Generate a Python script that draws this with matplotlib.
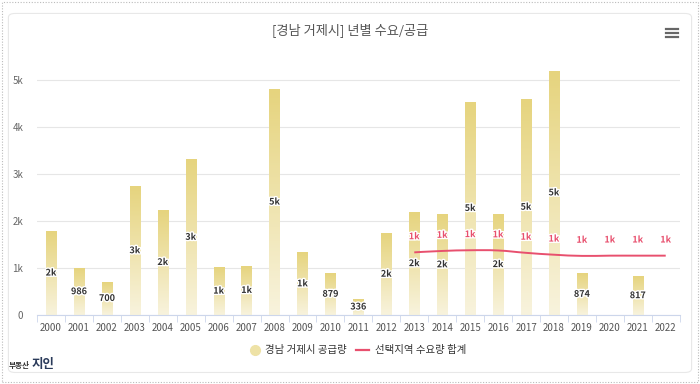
import matplotlib.pyplot as plt
import numpy as np
from matplotlib.colors import LinearSegmentedColormap
from matplotlib.path import Path
from matplotlib.patches import PathPatch, Rectangle, FancyBboxPatch
from matplotlib.lines import Line2D
import matplotlib.patheffects as pe

plt.rcParams['font.family'] = ['Noto Sans CJK KR', 'DejaVu Sans']

years = [str(y) for y in range(2000, 2023)]
supply = [1780, 986, 700, 2730, 2230, 3300, 1010, 1040, 4800, 1320, 879, 336,
          1730, 2180, 2130, 4530, 2140, 4580, 5190, 874, 0, 817, 0]
supply_labels = ['2k', '986', '700', '3k', '2k', '3k', '1k', '1k', '5k', '1k', '879', '336',
                 '2k', '2k', '2k', '5k', '2k', '5k', '5k', '874', '', '817', '']
demand_years = years[13:]
demand = [1330, 1360, 1375, 1370, 1320, 1280, 1255, 1260, 1260, 1260]
demand_labels = ['1k'] * len(demand)

title = '[경남 거제시] 년별 수요/공급'
legend_supply = '경남 거제시 공급량'
legend_demand = '선택지역 수요량 합계'

bar_top = '#E6D47E'
bar_bottom = '#F8F3DD'
line_color = '#E8506E'

fig = plt.figure(figsize=(7, 3.84), dpi=100)
ax = fig.add_axes([0.053, 0.180, 0.918, 0.661])

x = np.arange(len(years))
w = 0.37
cmap = LinearSegmentedColormap.from_list('g', [bar_bottom, bar_top])
grad = np.linspace(0, 1, 100).reshape(-1, 1)
for xi, v, lab in zip(x, supply, supply_labels):
    if v > 0:
        ax.imshow(grad, extent=[xi - w / 2, xi + w / 2, 0, v], origin='lower',
                  aspect='auto', cmap=cmap, zorder=2, interpolation='bilinear')
    if lab:
        ax.text(xi, v / 2, lab, ha='center', va='center', fontsize=6.5,
                fontweight='bold', color='#333333', zorder=5,
                path_effects=[pe.withStroke(linewidth=2, foreground='white')])

# spline for demand line (Highcharts-style bezier through the points)
dx = x[13:].astype(float)
dy = np.array(demand, dtype=float)
sm, den = 1.5, 2.5
verts = [(dx[0], dy[0])]
codes = [Path.MOVETO]
lc = [None] * len(dx)
rc = [None] * len(dx)
for i in range(len(dx)):
    if 0 < i < len(dx) - 1:
        lx = (sm * dx[i] + dx[i - 1]) / den
        ly = (sm * dy[i] + dy[i - 1]) / den
        rx = (sm * dx[i] + dx[i + 1]) / den
        ry = (sm * dy[i] + dy[i + 1]) / den
        corr = ((ry - ly) * (rx - dx[i])) / (rx - lx) + dy[i] - ry
        ly += corr
        ry += corr
        lc[i] = (lx, ly)
        rc[i] = (rx, ry)
for i in range(1, len(dx)):
    c1 = rc[i - 1] if rc[i - 1] else (dx[i - 1], dy[i - 1])
    c2 = lc[i] if lc[i] else (dx[i], dy[i])
    verts += [c1, c2, (dx[i], dy[i])]
    codes += [Path.CURVE4] * 3
ax.add_patch(PathPatch(Path(verts, codes), facecolor='none', edgecolor=line_color,
                       lw=1.4, zorder=4))
for xi, v, lab in zip(dx, dy, demand_labels):
    ax.annotate(lab, (xi, v), xytext=(0, 8), textcoords='offset points',
                ha='center', va='bottom', fontsize=6.5, fontweight='bold',
                color=line_color, zorder=6,
                path_effects=[pe.withStroke(linewidth=2, foreground='white')])

ax.set_xlim(-0.5, len(years) - 0.5)
ax.set_ylim(0, 5400)
ax.set_yticks([0, 1000, 2000, 3000, 4000, 5000])
ax.set_yticklabels(['0', '1k', '2k', '3k', '4k', '5k'])
ax.set_xticks(x)
ax.set_xticklabels(years)
ax.set_xticks(np.arange(-0.5, len(years), 1), minor=True)
ax.tick_params(axis='x', which='major', length=0, labelsize=7, colors='#555555', pad=6)
ax.tick_params(axis='x', which='minor', length=5, color='#ccd6eb', direction='out')
ax.tick_params(axis='y', length=0, labelsize=7, colors='#666666', pad=10)
ax.grid(axis='y', color='#e6e6e6', lw=0.8, zorder=0)
ax.set_axisbelow(True)
for s in ['top', 'right', 'left']:
    ax.spines[s].set_visible(False)
ax.spines['bottom'].set_color('#ccd6eb')

fig.text(0.5, 0.922, title, ha='center', va='center', fontsize=9.5, color='#555555')

# hamburger menu
for yy in [0.925, 0.914, 0.903]:
    fig.add_artist(Line2D([0.952, 0.968], [yy, yy], color='#666666', lw=1.6))

# legend
fig.add_artist(Line2D([0.364], [0.088], marker='o', markersize=7, color='#EEE2A6', lw=0))
fig.text(0.378, 0.088, legend_supply, ha='left', va='center', fontsize=7.5, color='#333333')
fig.add_artist(Line2D([0.508, 0.527], [0.088, 0.088], color=line_color, lw=1.6))
fig.text(0.536, 0.088, legend_demand, ha='left', va='center', fontsize=7.5, color='#333333')

# logo
fig.text(0.012, 0.047, '부동산', ha='left', va='center', fontsize=5.5, color='#333333',
         fontweight='bold')
fig.text(0.045, 0.05, '지인', ha='left', va='center', fontsize=9, color='#2a3a5a',
         fontweight='bold')

# borders
fig.add_artist(Rectangle((0.003, 0.005), 0.994, 0.99, transform=fig.transFigure,
                         fill=False, ec='#bbbbbb', lw=0.8, ls=(0, (1, 1.5))))
fig.add_artist(FancyBboxPatch((0.012, 0.03), 0.976, 0.935, boxstyle='round,pad=0,rounding_size=0.01',
                              transform=fig.transFigure, fill=False, ec='#e8e8e8', lw=0.8))

fig.savefig('out.png', dpi=100)
